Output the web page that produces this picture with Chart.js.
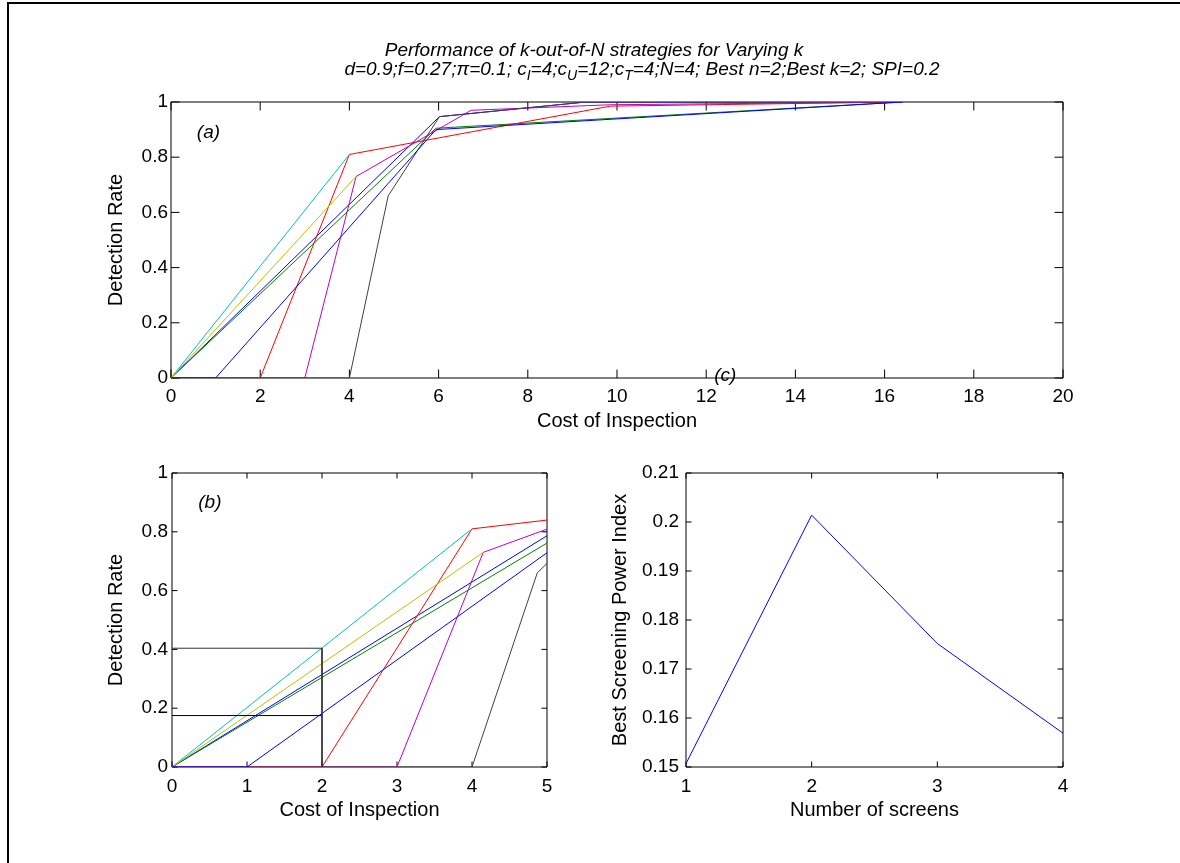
<!DOCTYPE html>
<html>
<head>
<meta charset="utf-8">
<script src="https://cdn.jsdelivr.net/npm/chart.js@4.4.1/dist/chart.umd.min.js"></script>
<style>
  body { margin: 0; background: #fff; width: 1180px; height: 863px; position: relative; overflow: hidden; }
  canvas { position: absolute; }
  #frameLeft { position: absolute; left: 7px; top: 2px; width: 2px; height: 861px; background: #000; }
  #frameTop { position: absolute; left: 7px; top: 2px; width: 1173px; height: 2px; background: #000; }
</style>
</head>
<body>
<div id="frameLeft"></div>
<div id="frameTop"></div>
<canvas id="chartA" width="1180" height="440" style="left:0;top:0"></canvas>
<canvas id="chartB" width="600" height="423" style="left:0;top:440px"></canvas>
<canvas id="chartC" width="580" height="533" style="left:600px;top:330px"></canvas>
<script>
// k-out-of-N strategies: cost of inspection vs detection rate (panels a and b)
const cost1 = [0, 6.02, 9.3, 16.4];
const rate1 = [0, 0.947, 1.0, 1.0];
const cost2 = [0, 5.94, 16.4];
const rate2 = [0, 0.905, 1.0];
const cost3 = [0, 2, 4, 9.85, 16.4];
const rate3 = [0, 0, 0.81, 0.985, 1.0];
const cost4 = [0, 4];
const rate4 = [0, 0.81];
const cost5 = [0, 3, 4.15, 6.73, 9.85, 16.4];
const rate5 = [0, 0, 0.73, 0.97, 0.99, 1.0];
const cost6 = [0, 4.15];
const rate6 = [0, 0.73];
const cost7 = [0, 4, 4.87, 6.02, 9.3, 16.4];
const rate7 = [0, 0, 0.66, 0.947, 1.0, 1.0];
const cost8 = [0, 1, 5.94, 16.4];
const rate8 = [0, 0, 0.9, 1.0];

// guide lines in panel (b)
const guideCost1 = [0, 2, 2];
const guideRate1 = [0.404, 0.404, 0];
const guideCost2 = [0, 2];
const guideRate2 = [0.175, 0.175];

// panel (c)
const screens = [1, 2, 3, 4];
const bestSPI = [0.1507, 0.2014, 0.1752, 0.1569];

// ticks
const costTicksA = [0, 2, 4, 6, 8, 10, 12, 14, 16, 18, 20];
const costTicksB = [0, 1, 2, 3, 4, 5];
const rateTicks = [0, 0.2, 0.4, 0.6, 0.8, 1];
const screenTicks = [1, 2, 3, 4];
const spiTicks = [0.15, 0.16, 0.17, 0.18, 0.19, 0.2, 0.21];

const titleLine1 = 'Performance of k-out-of-N strategies for Varying k';
const titleLine2 = [
  ['d=0.9;f=0.27;\u03c0=0.1; c', false], ['I', true], ['=4;c', false], ['U', true],
  ['=12;c', false], ['T', true], ['=4;N=4; Best n=2;Best k=2; SPI=0.2', false]
];

const lineColors = ['#0000ff', '#008000', '#ff0000', '#00bfbf', '#bf00bf', '#bfbf00', '#404040', '#0000ff'];
const FONT = '"Liberation Sans", Arial, sans-serif';

const strategyCosts = [cost1, cost2, cost3, cost4, cost5, cost6, cost7, cost8];
const strategyRates = [rate1, rate2, rate3, rate4, rate5, rate6, rate7, rate8];

function toPoints(xs, ys) {
  return xs.map((v, i) => ({ x: v, y: ys[i] }));
}

function strategyDatasets() {
  return strategyCosts.map((c, i) => ({
    data: toPoints(c, strategyRates[i]),
    borderColor: lineColors[i],
    borderWidth: 1,
    pointRadius: 0,
    fill: false,
    tension: 0,
    order: 20 - i
  }));
}

// matlab style box with inward ticks + panel letters
const axesBox = {
  id: 'axesBox',
  beforeDatasetsDraw(chart, args, o) {
    const { ctx, chartArea: a, scales: { x, y } } = chart;
    ctx.save();
    ctx.strokeStyle = '#000';
    ctx.lineWidth = 1;
    ctx.beginPath();
    ctx.rect(a.left, a.top, a.right - a.left, a.bottom - a.top);
    x.ticks.forEach(t => {
      const px = x.getPixelForValue(t.value);
      ctx.moveTo(px, a.bottom); ctx.lineTo(px, a.bottom - o.len);
      ctx.moveTo(px, a.top); ctx.lineTo(px, a.top + o.len);
    });
    y.ticks.forEach(t => {
      const py = y.getPixelForValue(t.value);
      ctx.moveTo(a.left, py); ctx.lineTo(a.left + o.len, py);
      ctx.moveTo(a.right, py); ctx.lineTo(a.right - o.len, py);
    });
    ctx.stroke();
    ctx.restore();
  },
  afterDatasetsDraw(chart, args, o) {
    if (!o.tag) return;
    const { ctx, scales: { x, y } } = chart;
    ctx.save();
    ctx.font = 'italic 19px ' + FONT;
    ctx.fillStyle = '#000';
    ctx.textBaseline = 'middle';
    ctx.fillText(o.tag.text, x.getPixelForValue(o.tag.x), y.getPixelForValue(o.tag.y));
    ctx.restore();
  }
};

const titleLines = {
  id: 'titleLines',
  afterDraw(chart) {
    const ctx = chart.ctx;
    ctx.save();
    ctx.fillStyle = '#000';
    ctx.textBaseline = 'middle';
    ctx.textAlign = 'left';
    const big = 'italic 19px ' + FONT;
    const small = 'italic 14px ' + FONT;
    ctx.font = big;
    let w1 = ctx.measureText(titleLine1).width;
    ctx.fillText(titleLine1, 594 - w1 / 2, 51);
    let w2 = 0;
    titleLine2.forEach(p => { ctx.font = p[1] ? small : big; w2 += ctx.measureText(p[0]).width; });
    let xx = 642 - w2 / 2;
    titleLine2.forEach(p => {
      ctx.font = p[1] ? small : big;
      ctx.fillText(p[0], xx, p[1] ? 76 : 70);
      xx += ctx.measureText(p[0]).width;
    });
    ctx.restore();
  }
};

function linearAxis(min, max, tickVals, opts) {
  return {
    type: 'linear',
    min: min,
    max: max,
    grid: { display: false, drawTicks: false },
    border: { display: false },
    afterBuildTicks: s => { s.ticks = tickVals.map(v => ({ value: v })); },
    ticks: {
      color: '#000',
      font: { family: FONT, size: 19 },
      padding: opts.tickPad,
      maxRotation: 0,
      autoSkip: false,
      callback: v => String(v)
    },
    title: {
      display: true,
      text: opts.title,
      color: '#000',
      font: { family: FONT, size: 20 },
      padding: opts.titlePad
    },
    afterFit: s => {
      if (opts.width) s.width = opts.width;
      if (opts.height) s.height = opts.height;
      s.paddingTop = 0; s.paddingBottom = 0; s.paddingLeft = 0; s.paddingRight = 0;
    }
  };
}

const common = {
  responsive: false,
  animation: false,
  events: [],
  plugins: { legend: { display: false }, tooltip: { enabled: false } }
};

// (a)
new Chart(document.getElementById('chartA'), {
  type: 'line',
  data: { datasets: strategyDatasets() },
  options: Object.assign({}, common, {
    layout: { padding: { left: 0, top: 102, right: 117, bottom: 0 } },
    scales: {
      x: linearAxis(0, 20, costTicksA, { title: 'Cost of Inspection', tickPad: 7, titlePad: { bottom: 7 }, height: 62 }),
      y: linearAxis(0, 1, rateTicks, { title: 'Detection Rate', tickPad: 3, titlePad: { top: 104 }, width: 171 })
    },
    plugins: Object.assign({}, common.plugins, {
      axesBox: { len: 8.5, tag: { text: '(a)', x: 0.58, y: 0.89 } }
    })
  }),
  plugins: [axesBox, titleLines]
});

// (b)
const dsB = strategyDatasets();
dsB.push({ data: toPoints(guideCost1, guideRate1), borderColor: '#333', borderWidth: 1, pointRadius: 0, order: 0 });
dsB.push({ data: toPoints(guideCost2, guideRate2), borderColor: '#000', borderWidth: 1, pointRadius: 0, order: 0 });
new Chart(document.getElementById('chartB'), {
  type: 'line',
  data: { datasets: dsB },
  options: Object.assign({}, common, {
    layout: { padding: { left: 0, top: 33, right: 53, bottom: 0 } },
    scales: {
      x: linearAxis(0, 5, costTicksB, { title: 'Cost of Inspection', tickPad: 8, titlePad: { bottom: 41 }, height: 96 }),
      y: linearAxis(0, 1, rateTicks, { title: 'Detection Rate', tickPad: 4, titlePad: { top: 104 }, width: 172 })
    },
    plugins: Object.assign({}, common.plugins, {
      axesBox: { len: 5.5, tag: { text: '(b)', x: 0.35, y: 0.9 } }
    })
  }),
  plugins: [axesBox]
});

// (c)
new Chart(document.getElementById('chartC'), {
  type: 'line',
  data: {
    datasets: [{
      data: toPoints(screens, bestSPI),
      borderColor: '#0000ff',
      borderWidth: 1,
      pointRadius: 0,
      tension: 0
    }]
  },
  options: Object.assign({}, common, {
    layout: { padding: { left: 0, top: 143, right: 117, bottom: 0 } },
    scales: {
      x: linearAxis(1, 4, screenTicks, { title: 'Number of screens', tickPad: 8, titlePad: { bottom: 41 }, height: 96 }),
      y: linearAxis(0.15, 0.21, spiTicks, { title: 'Best Screening Power Index', tickPad: 7, titlePad: { top: 8 }, width: 86 })
    },
    plugins: Object.assign({}, common.plugins, {
      axesBox: { len: 5.5, tag: { text: '(c)', x: 1.225, y: 0.2298 } }
    })
  }),
  plugins: [axesBox]
});
</script>
</body>
</html>
